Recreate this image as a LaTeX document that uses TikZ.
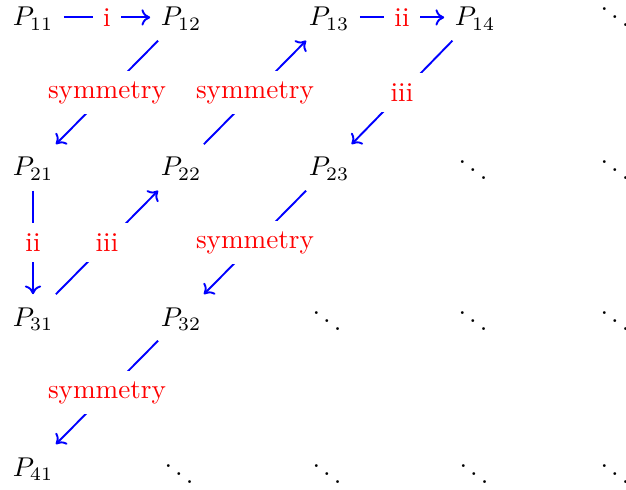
\documentclass[tikz,border=0pt]{standalone}
\usetikzlibrary{arrows.meta}
\begin{document}
\begin{tikzpicture}[x=0.368pt,y=-0.368pt,
  obj/.style={anchor=base, inner sep=3.7pt, text height=7.8pt, text depth=1.5pt},
  dts/.style={anchor=center, inner sep=0pt},
  arr/.style={-{To[length=3.2pt,width=6pt]}, blue, line width=0.7pt},
  lab/.style={fill=white, text=red, inner sep=3.8pt, anchor=center, midway}]
\useasboundingbox (0,0) rectangle (626,490);
\clip (0,0) rectangle (626,490);
% objects
\node[obj] (p11) at (33,26) {$P_{11}$};
\node[obj] (p12) at (181,26) {$P_{12}$};
\node[obj] (p13) at (329,26) {$P_{13}$};
\node[obj] (p14) at (475,26) {$P_{14}$};
\node[obj] (p21) at (33,176) {$P_{21}$};
\node[obj] (p22) at (181,176) {$P_{22}$};
\node[obj] (p23) at (329,176) {$P_{23}$};
\node[obj] (p31) at (33,326) {$P_{31}$};
\node[obj] (p32) at (181,326) {$P_{32}$};
\node[obj] (p41) at (33,476) {$P_{41}$};
% dots
\node[dts] (d15) at (615,9) {$\ddots$};
\node[dts] (d24) at (473,162) {$\ddots$};
\node[dts] (d25) at (615,162) {$\ddots$};
\node[dts] (d33) at (327,313) {$\ddots$};
\node[dts] (d34) at (473,313) {$\ddots$};
\node[dts] (d35) at (615,313) {$\ddots$};
\node[dts] (d42) at (179,466) {$\ddots$};
\node[dts] (d43) at (327,466) {$\ddots$};
\node[dts] (d44) at (474,466) {$\ddots$};
\node[dts] (d45) at (615,466) {$\ddots$};
% arrows
\draw[arr] (p11) -- node[lab] {i} (p12);
\draw[arr] (p12) -- node[lab] {symmetry} (p21);
\draw[arr] (p22) -- node[lab] {symmetry} (p13);
\draw[arr] (p13) -- node[lab] {ii} (p14);
\draw[arr] (p14) -- node[lab] {iii} (p23);
\draw[arr] (p21) -- node[lab] {ii} (p31);
\draw[arr] (p31) -- node[lab] {iii} (p22);
\draw[arr] (p23) -- node[lab] {symmetry} (p32);
\draw[arr] (p32) -- node[lab] {symmetry} (p41);
\end{tikzpicture}
\end{document}
